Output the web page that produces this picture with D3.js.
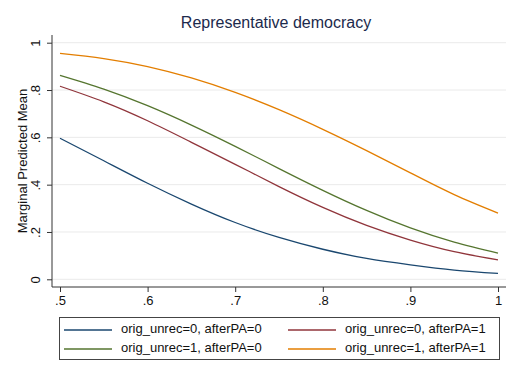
<!DOCTYPE html>
<html>
<head>
<meta charset="utf-8">
<script src="https://cdn.jsdelivr.net/npm/d3@7"></script>
<style>
  html, body { margin: 0; padding: 0; background: #fff; }
  svg { display: block; font-family: "Liberation Sans", Arial, Helvetica, sans-serif; }
</style>
</head>
<body>
<svg id="chart" width="520" height="378"></svg>
<script>
// ---- data ----
const xValues = [0.5, 0.55, 0.6, 0.65, 0.7, 0.75, 0.8, 0.85, 0.9, 0.95, 1.0];
const seriesNames = [
  "orig_unrec=0, afterPA=0",
  "orig_unrec=0, afterPA=1",
  "orig_unrec=1, afterPA=0",
  "orig_unrec=1, afterPA=1"
];
const s00 = [0.596, 0.501, 0.406, 0.318, 0.240, 0.177, 0.127, 0.088, 0.061, 0.039, 0.025];
const s01 = [0.816, 0.750, 0.670, 0.579, 0.486, 0.392, 0.304, 0.228, 0.166, 0.117, 0.082];
const s10 = [0.862, 0.804, 0.734, 0.652, 0.562, 0.468, 0.376, 0.291, 0.217, 0.157, 0.111];
const s11 = [0.955, 0.933, 0.899, 0.851, 0.790, 0.717, 0.634, 0.544, 0.450, 0.358, 0.280];
const xTicks = [0.5, 0.6, 0.7, 0.8, 0.9, 1.0];
const xTickLabels = [".5", ".6", ".7", ".8", ".9", "1"];
const yTicks = [0, 0.2, 0.4, 0.6, 0.8, 1.0];
const yTickLabels = ["0", ".2", ".4", ".6", ".8", "1"];
const colors = ["#1a476f", "#90353b", "#55752f", "#e37e00"];

const seriesValues = [s00, s01, s10, s11];

// ---- layout ----
const svg = d3.select("#chart");
svg.append("rect").attr("width", 520).attr("height", 378).attr("fill", "#fff");

const plotLeft = 52, plotRight = 506, plotTop = 35, plotBottom = 287;
const x = d3.scaleLinear().domain([0.5, 1.0]).range([60, 498]);
const y = d3.scaleLinear().domain([0, 1]).range([279.3, 42.7]);

// gridlines
svg.append("g").selectAll("line").data(yTicks).join("line")
  .attr("x1", plotLeft).attr("x2", plotRight)
  .attr("y1", d => y(d)).attr("y2", d => y(d))
  .attr("stroke", "#eaeaea").attr("stroke-width", 1);

// y axis
const yAxis = d3.axisLeft(y).tickValues(yTicks)
  .tickFormat((d, i) => yTickLabels[i]).tickSize(5).tickPadding(0);
const gy = svg.append("g").attr("transform", `translate(${plotLeft},0)`).call(yAxis);
gy.select(".domain").remove();
gy.append("line").attr("x1", 0).attr("x2", 0).attr("y1", plotTop).attr("y2", plotBottom)
  .attr("stroke", "#333").attr("stroke-width", 1);
gy.selectAll(".tick line").attr("stroke", "#333");
gy.selectAll(".tick text")
  .attr("font-size", 13).attr("fill", "#111")
  .attr("text-anchor", "middle")
  .attr("x", 0).attr("dy", 0)
  .attr("transform", "translate(-15,0) rotate(-90)")
  .attr("dominant-baseline", "middle");

// x axis
const xAxis = d3.axisBottom(x).tickValues(xTicks)
  .tickFormat((d, i) => xTickLabels[i]).tickSize(5).tickPadding(4);
const gx = svg.append("g").attr("transform", `translate(0,${plotBottom})`).call(xAxis);
gx.select(".domain").remove();
gx.append("line").attr("x1", plotLeft).attr("x2", plotRight).attr("y1", 0).attr("y2", 0)
  .attr("stroke", "#333").attr("stroke-width", 1);
gx.selectAll(".tick line").attr("stroke", "#333");
gx.selectAll(".tick text").attr("font-size", 13).attr("fill", "#111");

// lines
const line = d3.line()
  .x((d, i) => x(xValues[i]))
  .y(d => y(d))
  .curve(d3.curveNatural);
svg.append("g").selectAll("path").data(seriesValues).join("path")
  .attr("d", d => line(d))
  .attr("fill", "none")
  .attr("stroke", (d, i) => colors[i])
  .attr("stroke-width", 1.3);

// title
svg.append("text").attr("x", 276).attr("y", 28)
  .attr("text-anchor", "middle").attr("font-size", 16)
  .attr("fill", "#1c2a4c").text("Representative democracy");

// y title
svg.append("text")
  .attr("transform", "translate(27,161) rotate(-90)")
  .attr("text-anchor", "middle").attr("font-size", 13)
  .attr("fill", "#111").text("Marginal Predicted Mean");

// legend
const lg = svg.append("g");
lg.append("rect").attr("x", 59.5).attr("y", 317.5).attr("width", 440).attr("height", 42)
  .attr("fill", "#fff").attr("stroke", "#444").attr("stroke-width", 1);
const legendPos = [
  { lx: 64, ty: 330 }, { lx: 288, ty: 330 },
  { lx: 64, ty: 349 }, { lx: 288, ty: 349 }
];
seriesNames.forEach((name, i) => {
  const p = legendPos[i];
  lg.append("line").attr("x1", p.lx).attr("x2", p.lx + 48)
    .attr("y1", p.ty).attr("y2", p.ty)
    .attr("stroke", colors[i]).attr("stroke-width", 1.3);
  lg.append("text").attr("x", p.lx + 57).attr("y", p.ty)
    .attr("dominant-baseline", "middle")
    .attr("font-size", 13).attr("fill", "#111").text(name);
});
</script>
</body>
</html>
